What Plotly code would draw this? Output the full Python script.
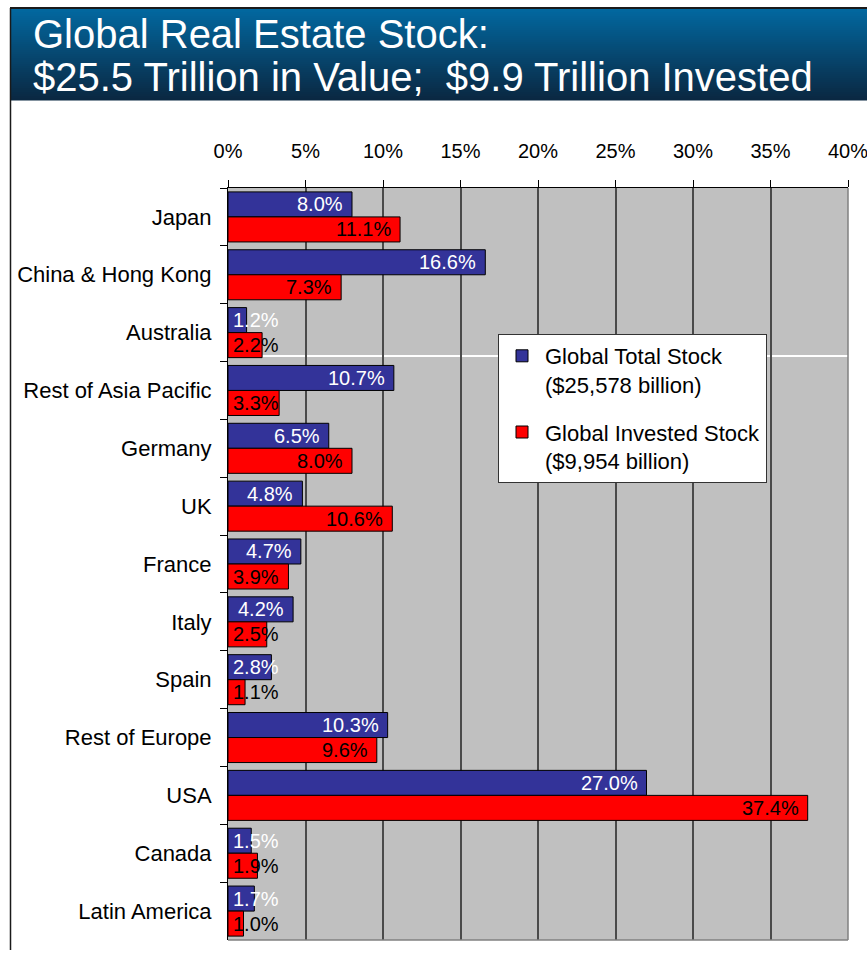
import plotly.graph_objects as go

# Share of global real estate stock by region (%)
regions = [
    "Japan", "China & Hong Kong", "Australia", "Rest of Asia Pacific",
    "Germany", "UK", "France", "Italy", "Spain", "Rest of Europe",
    "USA", "Canada", "Latin America",
]
total_stock = [8.0, 16.6, 1.2, 10.7, 6.5, 4.8, 4.7, 4.2, 2.8, 10.3, 27.0, 1.5, 1.7]
invested_stock = [11.1, 7.3, 2.2, 3.3, 8.0, 10.6, 3.9, 2.5, 1.1, 9.6, 37.4, 1.9, 1.0]

series_names = [
    "Global Total Stock<br>($25,578 billion)",
    "Global Invested Stock<br>($9,954 billion)",
]
x_ticks = [0, 5, 10, 15, 20, 25, 30, 35, 40]
title_lines = [
    "Global Real Estate Stock:",
    "$25.5 Trillion in Value;\u00a0 $9.9 Trillion Invested",
]

FONT = "Liberation Sans, Arial, sans-serif"
BLUE = "#333399"
RED = "#FF0000"

W, H = 867, 955
ML, MR, MT, MB = 228, 19, 188, 15
PW, PH = W - ML - MR, H - MT - MB


def px_x(px):
    return (px - ML) / PW


def px_y(py):
    return 1 - (py - MT) / PH


fig = go.Figure()
fig.add_trace(go.Bar(
    y=regions, x=total_stock, orientation="h", name=series_names[0],
    marker=dict(color=BLUE, line=dict(color="black", width=1)),
    legendgroup="a", hoverinfo="skip",
))
fig.add_trace(go.Bar(
    y=regions, x=invested_stock, orientation="h", name=series_names[1],
    marker=dict(color=RED, line=dict(color="black", width=1)),
    legendgroup="b", hoverinfo="skip",
))

# Value labels: right-aligned inside the bar end, or starting at the bar base
# when the bar is too short to hold the text.
CHAR_W = {"0": .556, "1": .556, "2": .556, "3": .556, "4": .556, "5": .556,
          "6": .556, "7": .556, "8": .556, "9": .556, ".": .278, "%": .889}
LABEL_SIZE = 20
px_per_unit = PW / 40.0
bar_w = (1 - 0.135) / 2
annotations = []
for series, color, off in ((total_stock, "white", -bar_w / 2),
                           (invested_stock, "black", bar_w / 2)):
    for i, v in enumerate(series):
        txt = f"{v:.1f}%"
        tw = sum(CHAR_W[c] for c in txt) * LABEL_SIZE
        fits = v * px_per_unit - 7 - tw >= 3
        annotations.append(dict(
            x=v if fits else 0, y=i + off, xref="x", yref="y",
            text=txt, showarrow=False,
            xanchor="right" if fits else "left", yanchor="middle",
            xshift=-7 if fits else 3,
            font=dict(family=FONT, size=LABEL_SIZE, color=color),
        ))

# Title text on the banner
for k, line in enumerate(title_lines):
    annotations.append(dict(
        x=px_x(31), y=px_y(34 + k * 43), xref="paper", yref="paper",
        text=line, showarrow=False, xanchor="left", yanchor="middle",
        font=dict(family=FONT, size=40, color="white"),
    ))

shapes = []
# Banner with a vertical gradient from blue to dark navy
top, bottom, steps = 8, 100, 46
c0, c1 = (2, 104, 160), (10, 40, 66)
for s in range(steps):
    t = s / (steps - 1)
    col = tuple(round(a + (b - a) * t) for a, b in zip(c0, c1))
    y0 = top + (bottom - top) * s / steps
    y1 = top + (bottom - top) * (s + 1) / steps
    shapes.append(dict(
        type="rect", xref="paper", yref="paper", layer="above",
        x0=px_x(10), x1=px_x(W + 2), y0=px_y(y1 + 0.6), y1=px_y(y0),
        fillcolor=f"rgb{col}", line=dict(width=0),
    ))
# Banner outline (top and left) and slide frame line on the left
shapes.append(dict(type="line", xref="paper", yref="paper", layer="above",
                   x0=px_x(10), x1=px_x(W + 2), y0=px_y(8), y1=px_y(8),
                   line=dict(color="#1a1a1a", width=2)))
shapes.append(dict(type="line", xref="paper", yref="paper", layer="above",
                   x0=px_x(10.5), x1=px_x(10.5), y0=px_y(8), y1=px_y(950),
                   line=dict(color="#1a1a1a", width=1.5)))
# White rule across the plot area
shapes.append(dict(type="line", xref="paper", yref="paper", layer="below",
                   x0=0, x1=1, y0=px_y(356), y1=px_y(356),
                   line=dict(color="white", width=2)))
# Gray right and bottom borders of the plot area
shapes.append(dict(type="line", xref="paper", yref="paper", layer="above",
                   x0=1, x1=1, y0=0, y1=1, line=dict(color="#808080", width=1.5)))
shapes.append(dict(type="line", xref="paper", yref="paper", layer="above",
                   x0=0, x1=1, y0=0, y1=0, line=dict(color="#808080", width=1.5)))

fig.update_layout(
    width=W, height=H,
    margin=dict(l=ML, r=MR, t=MT, b=MB, pad=0, autoexpand=False),
    paper_bgcolor="white", plot_bgcolor="#C0C0C0",
    barmode="group", bargap=0.135, bargroupgap=0,
    font=dict(family=FONT, color="black"),
    showlegend=True,
    legend=dict(
        x=px_x(498), y=px_y(334), xanchor="left", yanchor="top",
        bgcolor="white", bordercolor="#333333", borderwidth=1,
        font=dict(family=FONT, size=22, color="black"),
        traceorder="grouped", tracegroupgap=16, valign="top",
        itemwidth=36,
    ),
    xaxis=dict(
        side="top", range=[0, 40], tickvals=x_ticks,
        ticktext=[f"{t}%" for t in x_ticks],
        showgrid=True, gridcolor="#4a4a4a", gridwidth=1.5,
        zeroline=False, showline=True, linecolor="black", linewidth=1,
        ticks="outside", ticklen=7, tickcolor="black", tickwidth=1,
        tickfont=dict(family=FONT, size=20, color="black"),
        ticklabelstandoff=14, ticklabeloverflow="allow",
        automargin=False, fixedrange=True,
    ),
    yaxis=dict(
        type="category", categoryorder="array", categoryarray=regions,
        autorange="reversed", showgrid=False, zeroline=False,
        showline=True, linecolor="black", linewidth=1,
        ticks="outside", ticklen=7, tickcolor="black", tickwidth=1,
        tickson="boundaries",
        tickfont=dict(family=FONT, size=22, color="black"),
        ticklabelstandoff=11,
        automargin=False, fixedrange=True,
    ),
    annotations=annotations,
    shapes=shapes,
)

fig.write_html("out.html", config={"displayModeBar": False})
